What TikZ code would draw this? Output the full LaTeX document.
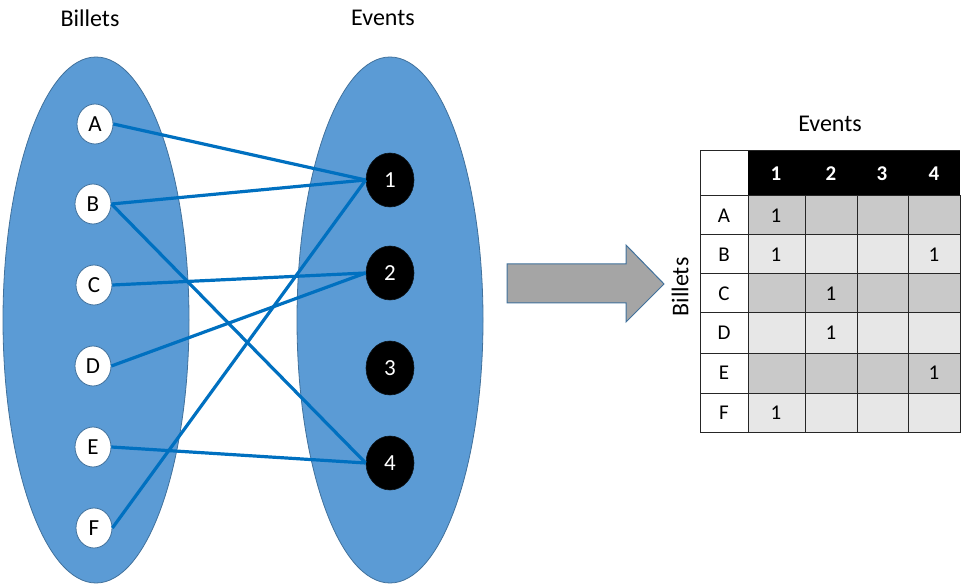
\documentclass[tikz,border=0pt]{standalone}
\usepackage{fontspec}
\setmainfont{Carlito}
\usetikzlibrary{shapes.geometric}
\definecolor{setblue}{RGB}{91,155,213}
\definecolor{setborder}{RGB}{65,113,156}
\definecolor{linkblue}{RGB}{0,112,192}
\definecolor{darkcell}{RGB}{201,201,201}
\definecolor{lightcell}{RGB}{231,231,231}
\definecolor{arrowgray}{RGB}{165,165,165}
\begin{document}
\begin{tikzpicture}[x=1pt,y=-1pt,
  setshape/.style={ellipse, draw=setborder, line width=0.8pt, fill=setblue,
    minimum width=186pt, minimum height=526pt, inner sep=0pt},
  billet/.style={ellipse, draw=setborder, fill=white, line width=0.8pt,
    minimum width=36pt, minimum height=40pt, inner sep=0pt,
    font=\fontsize{23}{27}\selectfont},
  eventnode/.style={ellipse, fill=black, draw=black!80!setborder, line width=0.6pt,
    minimum width=48pt, minimum height=54pt, inner sep=0pt, text=white,
    font=\fontsize{23}{27}\selectfont},
  link/.style={draw=linkblue, line width=3.2pt},
  toplabel/.style={font=\fontsize{24}{28}\selectfont, inner sep=0pt},
  cellgrid/.style={draw=black!85, line width=1pt},
  celltext/.style={font=\fontsize{21}{25}\selectfont, inner sep=0pt},
  headtext/.style={font=\fontsize{21}{25}\selectfont\bfseries, text=white, inner sep=0pt},
  bigarrow/.style={draw=setborder, line width=1pt, fill=arrowgray}
]
\useasboundingbox (0,0) rectangle (961,585);

% titles
\node[toplabel] (tBillets) at (90,18) {Billets};
\node[toplabel] (tEvents) at (383,18) {Events};

% sets
\node[setshape] (setL) at (96,320) {};
\node[setshape] (setR) at (390,320) {};

% billets
\node[billet] (A) at (95,124) {A};
\node[billet] (B) at (93,204) {B};
\node[billet] (C) at (94,285) {C};
\node[billet] (D) at (93,366) {D};
\node[billet] (E) at (93,447) {E};
\node[billet] (F) at (94,528) {F};

% events
\node[eventnode] (e1) at (390,180) {1};
\node[eventnode] (e2) at (390,273) {2};
\node[eventnode] (e3) at (390,368) {3};
\node[eventnode] (e4) at (390,463) {4};

% links
\draw[link] (A.east) -- (e1.west);
\draw[link] (B.east) -- (e1.west);
\draw[link] (B.east) -- (e4.west);
\draw[link] (C.east) -- (e2.west);
\draw[link] (D.east) -- (e2.west);
\draw[link] (E.east) -- (e4.west);
\draw[link] (F.east) -- (e1.west);

% arrow
\draw[bigarrow] (507,264) -- (626,264) -- (626,245) -- (664,284) -- (626,322)
  -- (626,303) -- (507,303) -- cycle;

% table labels
\node[toplabel] (tabEvents) at (830,124) {Events};
\node[toplabel, rotate=90] (tabBillets) at (680,287) {Billets};

% header
\draw[cellgrid, fill=white] (700,151) rectangle (748,196);
\fill[black] (748,151) rectangle (960,196);
\draw[cellgrid] (700,151) -- (960,151);
\node[headtext] (h1) at (776,174) {1};
\node[headtext] (h2) at (831,174) {2};
\node[headtext] (h3) at (882,174) {3};
\node[headtext] (h4) at (934,174) {4};

% rows
\foreach \t/\b/\lab/\fc in {196/235/A/darkcell, 235/274/B/lightcell,
    274/313/C/darkcell, 313/353/D/lightcell, 353/393/E/darkcell, 393/432/F/lightcell}{
  \draw[cellgrid, fill=white] (700,\t) rectangle (748,\b);
  \node[celltext] at (724,{(\t+\b)/2}) {\lab};
  \foreach \l/\r in {748/805, 805/857, 857/908, 908/960}{
    \draw[cellgrid, fill=\fc] (\l,\t) rectangle (\r,\b);
  }
}

% ones
\node[celltext] (vA1) at (776,215.5) {1};
\node[celltext] (vB1) at (776,254.5) {1};
\node[celltext] (vB4) at (934,254.5) {1};
\node[celltext] (vC2) at (831,293.5) {1};
\node[celltext] (vD2) at (831,333) {1};
\node[celltext] (vE4) at (934,373) {1};
\node[celltext] (vF1) at (776,412.5) {1};
\end{tikzpicture}
\end{document}
